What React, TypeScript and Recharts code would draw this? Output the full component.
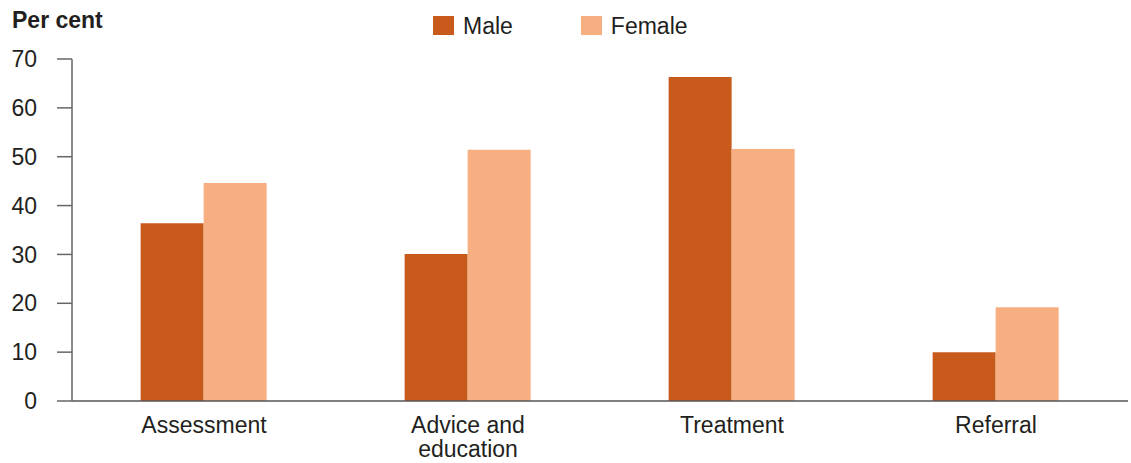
import { BarChart, Bar, XAxis, YAxis } from "recharts";

const categories = ["Assessment", "Advice and education", "Treatment", "Referral"];
const maleValues = [36.4, 30.1, 66.3, 10.0];
const femaleValues = [44.6, 51.4, 51.6, 19.2];
const yTicks = [0, 10, 20, 30, 40, 50, 60, 70];
const seriesNames = ["Male", "Female"];
const seriesColors = ["#C85A1C", "#F7AF82"];

const data = categories.map((name, i) => ({
  name,
  male: maleValues[i],
  female: femaleValues[i],
}));

const font = "'Liberation Sans', Arial, sans-serif";
const textColor = "#231F20";

function wrapLabel(text: string, maxChars: number) {
  const words = text.split(" ");
  const lines: string[] = [];
  let cur = "";
  for (const w of words) {
    const next = cur ? cur + " " + w : w;
    if (next.length > maxChars && cur) {
      lines.push(cur);
      cur = w;
    } else {
      cur = next;
    }
  }
  if (cur) lines.push(cur);
  return lines;
}

function CategoryTick(props: any) {
  const { x, y, payload } = props;
  const lines = wrapLabel(String(payload.value), 12);
  return (
    <text x={x} y={y} textAnchor="middle" fill={textColor} fontSize={23} fontFamily={font}>
      {lines.map((l, i) => (
        <tspan key={i} x={x} dy={i === 0 ? "0.71em" : 24}>
          {l}
        </tspan>
      ))}
    </text>
  );
}

export default function App() {
  return (
    <div style={{ position: "absolute", left: 0, top: 0, width: 1131, height: 463, background: "#fff", fontFamily: font }}>
      <div
        style={{
          position: "absolute",
          left: 12,
          top: 9,
          fontSize: 23,
          lineHeight: "23px",
          fontWeight: 700,
          color: textColor,
        }}
      >
        Per cent
      </div>
      <div style={{ position: "absolute", left: 433, top: 16, display: "flex", alignItems: "flex-start" }}>
        {seriesNames.map((n, i) => (
          <div key={n} style={{ display: "flex", alignItems: "flex-start", marginRight: i === 0 ? 68 : 0 }}>
            <div style={{ width: 21, height: 19, background: seriesColors[i], marginRight: 9 }} />
            <div style={{ fontSize: 23, lineHeight: "23px", color: textColor, marginTop: -1 }}>{n}</div>
          </div>
        ))}
      </div>
      <BarChart
        width={1131}
        height={463}
        data={data}
        margin={{ top: 59, right: 3, left: 0, bottom: 0 }}
        barCategoryGap="26%"
        barGap={0}
      >
        <XAxis
          dataKey="name"
          height={62}
          tickLine={false}
          tickSize={0}
          tickMargin={16}
          axisLine={{ stroke: "#555", strokeWidth: 1.5 }}
          tick={<CategoryTick />}
          interval={0}
        />
        <YAxis
          width={72}
          domain={[0, 70]}
          ticks={yTicks}
          tickSize={15}
          tickMargin={20}
          axisLine={{ stroke: "#666", strokeWidth: 1.5 }}
          tickLine={{ stroke: "#666", strokeWidth: 1.5 }}
          tick={{ fill: textColor, fontSize: 23, fontFamily: font }}
        />
        <Bar dataKey="male" name={seriesNames[0]} fill={seriesColors[0]} isAnimationActive={false} />
        <Bar dataKey="female" name={seriesNames[1]} fill={seriesColors[1]} isAnimationActive={false} />
      </BarChart>
    </div>
  );
}
